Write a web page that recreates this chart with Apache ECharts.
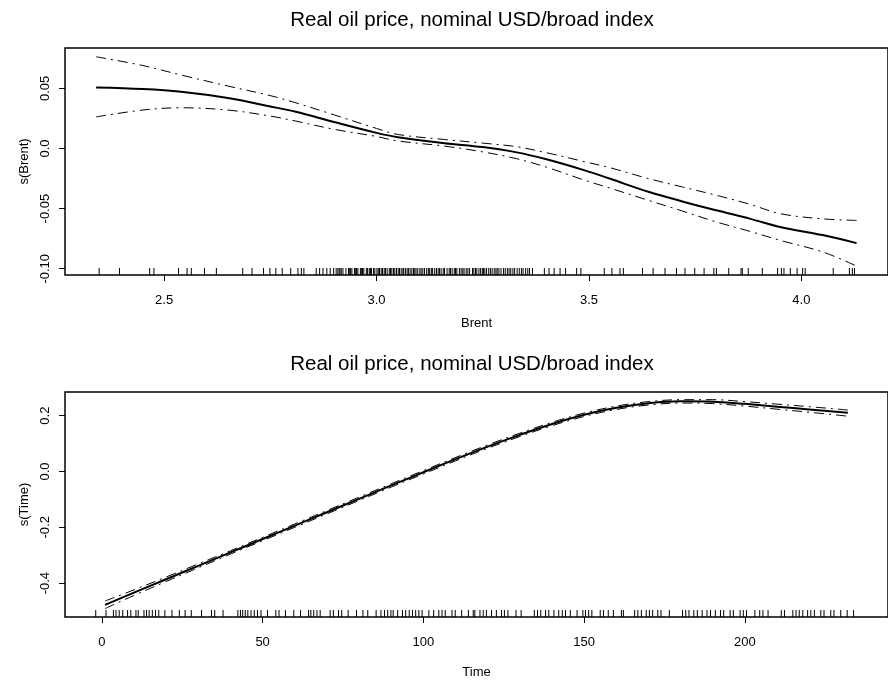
<!DOCTYPE html>
<html><head><meta charset="utf-8">
<script src="https://cdn.jsdelivr.net/npm/echarts@6/dist/echarts.min.js"></script>
<style>html,body{margin:0;padding:0;background:#fff}#c{width:888px;height:680px}</style>
</head><body><div id="c"></div>
<script>
const titleText = 'Real oil price, nominal USD/broad index';

// ---- Panel 1: s(Brent) ----
const brentX     = [2.34, 2.45, 2.54, 2.65, 2.75, 2.81, 2.90, 3.00, 3.05, 3.16, 3.25, 3.33, 3.40, 3.49, 3.55, 3.64, 3.72, 3.80, 3.88, 3.95, 4.05, 4.13];
const brentFit   = [0.0508, 0.0495, 0.0472, 0.0420, 0.0350, 0.0305, 0.0220, 0.0130, 0.0094, 0.0044, 0.0012, -0.0032, -0.0090, -0.0182, -0.0252, -0.0360, -0.0440, -0.0514, -0.0585, -0.0653, -0.0720, -0.0787];
const brentUpper = [0.0763, 0.0690, 0.0611, 0.0520, 0.0440, 0.0380, 0.0280, 0.0167, 0.0117, 0.0075, 0.0045, 0.0015, -0.0035, -0.0110, -0.0160, -0.0250, -0.0320, -0.0389, -0.0465, -0.0542, -0.0585, -0.0598];
const brentLower = [0.0263, 0.0320, 0.0339, 0.0320, 0.0270, 0.0228, 0.0160, 0.0100, 0.0063, 0.0020, -0.0028, -0.0085, -0.0155, -0.0264, -0.0330, -0.0431, -0.0520, -0.0611, -0.0690, -0.0764, -0.0860, -0.0978];
const brentRug = [2.347, 2.395, 2.466, 2.476, 2.534, 2.554, 2.564, 2.595, 2.623, 2.685, 2.707, 2.734, 2.749, 2.763, 2.778, 2.798, 2.815, 2.823, 2.829,
  2.858, 2.866, 2.874, 2.883, 2.891, 2.899, 2.905, 2.909, 2.912, 2.914, 2.917, 2.921, 2.928, 2.934, 2.936, 2.939, 2.942, 2.948, 2.951, 2.953, 2.956, 2.962, 2.965, 2.967, 2.970, 2.976, 2.979, 2.983, 2.986, 2.988, 2.993, 2.996,
  3.001, 3.004, 3.007, 3.011, 3.014, 3.018, 3.021, 3.025, 3.030, 3.033, 3.036, 3.040, 3.043, 3.047, 3.051, 3.054, 3.058, 3.062, 3.064, 3.068, 3.072, 3.075, 3.079, 3.083, 3.087, 3.090, 3.093, 3.097,
  3.102, 3.105, 3.109, 3.113, 3.118, 3.122, 3.125, 3.129, 3.132, 3.137, 3.141, 3.145, 3.148, 3.152, 3.157, 3.160, 3.166, 3.171, 3.174, 3.178, 3.183, 3.186, 3.189, 3.195, 3.199,
  3.203, 3.206, 3.211, 3.215, 3.219, 3.226, 3.229, 3.233, 3.236, 3.241, 3.245, 3.249, 3.252, 3.255, 3.259, 3.264, 3.268, 3.272, 3.277, 3.281, 3.284, 3.288, 3.293, 3.299,
  3.303, 3.308, 3.312, 3.316, 3.321, 3.325, 3.331, 3.336, 3.341, 3.345, 3.351, 3.356,
  3.360, 3.367, 3.395, 3.406, 3.418, 3.432, 3.445, 3.471, 3.481, 3.536, 3.554, 3.573, 3.581, 3.626, 3.651, 3.679, 3.706, 3.726, 3.749, 3.771, 3.794, 3.800, 3.829, 3.858, 3.861, 3.875, 3.908, 3.944, 3.953, 3.959, 3.974, 3.990, 4.003, 4.009, 4.075, 4.113, 4.120, 4.125];
const brentXTicks  = [2.5, 3.0, 3.5, 4.0];
const brentXLabels = ['2.5', '3.0', '3.5', '4.0'];
const brentYTicks  = [-0.10, -0.05, 0.0, 0.05];
const brentYLabels = ['-0.10', '-0.05', '0.0', '0.05'];

// ---- Panel 2: s(Time) ----
const timeX     = [1, 10, 20, 30, 40, 50, 60, 70, 80, 90, 100, 110, 120, 130, 140, 150, 160, 170, 180, 190, 200, 210, 220, 232];
const timeFit   = [-0.478, -0.434, -0.386, -0.338, -0.290, -0.242, -0.194, -0.146, -0.098, -0.050, -0.003, 0.044, 0.089, 0.131, 0.170, 0.203, 0.228, 0.244, 0.251, 0.250, 0.242, 0.232, 0.222, 0.210];
const timeUpper = [-0.464, -0.424, -0.378, -0.331, -0.284, -0.236, -0.188, -0.140, -0.092, -0.044, 0.003, 0.050, 0.095, 0.137, 0.176, 0.209, 0.234, 0.250, 0.257, 0.257, 0.250, 0.241, 0.232, 0.220];
const timeLower = [-0.491, -0.444, -0.394, -0.345, -0.296, -0.248, -0.200, -0.152, -0.104, -0.056, -0.009, 0.038, 0.083, 0.125, 0.164, 0.197, 0.222, 0.238, 0.245, 0.243, 0.234, 0.223, 0.212, 0.198];
const timeRug = [-1.9, 1.3, 3.6, 4.4, 5.4, 6.5, 8.0, 9.0, 10.6, 11.3, 13.1, 13.9, 14.7, 15.7, 16.7, 17.7, 19.6, 21.8, 24.1, 25.9, 27.8, 31.0, 34.1, 35.1, 37.7,
  42.3, 43.1, 43.8, 44.6, 45.4, 46.4, 47.4, 48.4, 49.5, 51.5, 54.1, 55.1, 57.1, 59.7, 61.8, 64.3, 65.0, 65.9, 66.9, 67.9, 71.0, 72.0, 73.6, 74.6, 76.6, 79.2,
  81.2, 82.7, 85.3, 86.8, 87.9, 88.9, 89.9, 90.6, 92.0, 93.5, 94.5, 95.6, 96.6, 97.6, 98.6, 99.6, 101.7, 103.2, 104.8, 105.8, 106.8, 108.9, 109.9, 111.9,
  114.0, 115.5, 116.0, 117.6, 118.6, 119.6, 121.2, 122.7, 124.3, 125.2, 126.3, 128.8, 130.4, 134.5, 135.5, 136.5, 138.0, 139.0, 140.6, 142.1, 143.2, 144.2,
  145.7, 147.8, 149.6, 150.4, 151.4, 152.4, 155.0, 156.0, 157.5, 159.1, 161.6, 162.2, 165.7, 166.7, 167.8, 169.3, 170.3, 171.3, 172.9, 173.9, 176.5,
  180.6, 181.6, 182.6, 184.1, 185.2, 186.7, 188.2, 189.3, 190.8, 192.4, 193.4, 195.4, 196.4, 198.5, 199.5, 200.5, 203.1, 204.6, 205.6, 207.2,
  211.3, 212.3, 214.9, 215.9, 216.9, 218.0, 219.5, 220.5, 221.6, 223.6, 224.6, 226.7, 227.7, 229.8, 231.8, 233.8];
const timeXTicks  = [0, 50, 100, 150, 200];
const timeXLabels = ['0', '50', '100', '150', '200'];
const timeYTicks  = [-0.4, -0.2, 0.0, 0.2];
const timeYLabels = ['-0.4', '-0.2', '0.0', '0.2'];

// ---- axis ranges (as in the picture) ----
const brentXRange = [2.2667, 4.2039];
const brentYRange = [-0.1052, 0.0836];
const timeXRange  = [-11.46, 244.5];
const timeYRange  = [-0.5212, 0.2845];

const FONT = 'Liberation Sans, Arial, Helvetica, sans-serif';
const zip = (xs, ys) => xs.map((x, i) => [x, ys[i]]);
const lookup = (vals, labels) => (v) => {
  let best = 0;
  for (let i = 1; i < vals.length; i++) if (Math.abs(vals[i] - v) < Math.abs(vals[best] - v)) best = i;
  return labels[best];
};

function xAxisCfg(idx, range, ticks, labels, name, gap) {
  return {
    type: 'value', gridIndex: idx, min: range[0], max: range[1], position: 'bottom',
    name: name, nameLocation: 'middle', nameGap: gap,
    nameTextStyle: { color: '#000', fontSize: 13, fontFamily: FONT },
    axisLine: { show: false, onZero: false },
    axisTick: { show: true, length: 6, inside: false, customValues: ticks, lineStyle: { color: '#000', width: 1 } },
    axisLabel: { show: true, customValues: ticks, margin: 19, color: '#000', fontSize: 13, fontFamily: FONT, formatter: lookup(ticks, labels) },
    splitLine: { show: false }
  };
}
function yAxisCfg(idx, range, ticks, labels, name) {
  return {
    type: 'value', gridIndex: idx, min: range[0], max: range[1], position: 'left',
    name: name, nameLocation: 'middle', nameGap: 32, nameRotate: 90,
    nameTextStyle: { color: '#000', fontSize: 13, fontFamily: FONT },
    axisLine: { show: false, onZero: false },
    axisTick: { show: true, length: 6, inside: false, customValues: ticks, lineStyle: { color: '#000', width: 1 } },
    axisLabel: { show: true, customValues: ticks, rotate: 90, margin: 13, color: '#000', fontSize: 13, fontFamily: FONT, formatter: lookup(ticks, labels) },
    splitLine: { show: false }
  };
}

const dashDot = [10, 5, 2, 5];
function lineSeries(ax, xs, ys, dashed) {
  return {
    type: 'line', xAxisIndex: ax, yAxisIndex: ax, data: zip(xs, ys),
    smooth: 0.35, showSymbol: false, symbol: 'none', silent: true, clip: true,
    lineStyle: dashed ? { color: '#000', width: 1, type: dashDot } : { color: '#000', width: 2 },
    z: dashed ? 3 : 4
  };
}
function rugSeries(ax, vals, yMin) {
  return {
    type: 'scatter', xAxisIndex: ax, yAxisIndex: ax, clip: false, silent: true,
    data: vals.map(v => [v, yMin]),
    symbol: 'rect', symbolSize: [1, 7], symbolOffset: [0, -3.5],
    itemStyle: { color: '#000', opacity: 1 }, z: 2
  };
}

const chart = echarts.init(document.getElementById('c'), null, { renderer: 'canvas' });
chart.setOption({
  backgroundColor: '#fff',
  animation: false,
  textStyle: { fontFamily: FONT },
  graphic: [
    { type: 'text', x: 472, y: 20, style: { text: titleText, fill: '#000', font: '20.5px ' + FONT, align: 'center', verticalAlign: 'middle' } },
    { type: 'text', x: 472, y: 364, style: { text: titleText, fill: '#000', font: '20.5px ' + FONT, align: 'center', verticalAlign: 'middle' } }
  ],
  grid: [
    { left: 65, top: 48, width: 833, height: 227, show: true, borderColor: '#000', borderWidth: 1.5, backgroundColor: 'transparent', containLabel: false },
    { left: 65, top: 392, width: 833, height: 226, show: true, borderColor: '#000', borderWidth: 1.5, backgroundColor: 'transparent', containLabel: false }
  ],
  xAxis: [
    xAxisCfg(0, brentXRange, brentXTicks, brentXLabels, 'Brent', 42),
    xAxisCfg(1, timeXRange, timeXTicks, timeXLabels, 'Time', 49)
  ],
  yAxis: [
    yAxisCfg(0, brentYRange, brentYTicks, brentYLabels, 's(Brent)'),
    yAxisCfg(1, timeYRange, timeYTicks, timeYLabels, 's(Time)')
  ],
  series: [
    lineSeries(0, brentX, brentFit, false),
    lineSeries(0, brentX, brentUpper, true),
    lineSeries(0, brentX, brentLower, true),
    rugSeries(0, brentRug, brentYRange[0]),
    lineSeries(1, timeX, timeFit, false),
    lineSeries(1, timeX, timeUpper, true),
    lineSeries(1, timeX, timeLower, true),
    rugSeries(1, timeRug, timeYRange[0])
  ]
});
</script>
</body></html>
